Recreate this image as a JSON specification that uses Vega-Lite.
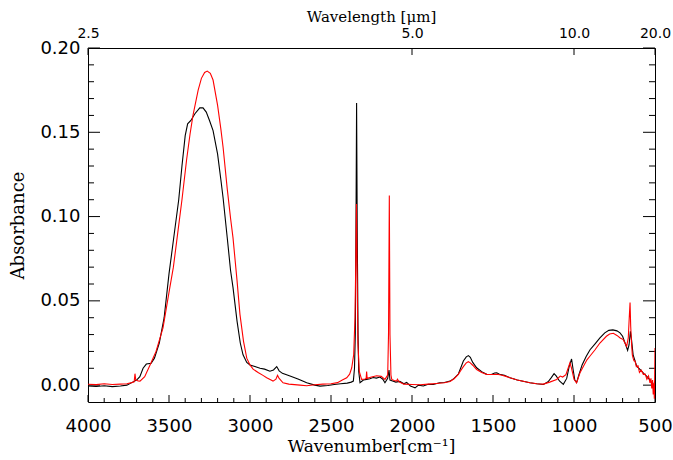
{
  "$schema": "https://vega.github.io/schema/vega-lite/v6.json",
  "width": 567,
  "height": 354,
  "autosize": "none",
  "padding": {"left": 88, "top": 48, "right": 18, "bottom": 58},
  "config": {"view": {"stroke": "#000000", "strokeWidth": 1}, "axis": {"domain": false, "ticks": false, "tickSize": 0, "grid": false, "labelColor": "#000", "titleColor": "#000"}},
  "data": {"values": [
    {"s":"b","w":4000,"a":-0.0005},{"s":"b","w":3950,"a":-0.0008},{"s":"b","w":3900,"a":-0.0004},{"s":"b","w":3850,"a":-0.0009},{"s":"b","w":3800,"a":-0.0005},{"s":"b","w":3760,"a":0.0},{"s":"b","w":3730,"a":0.0015},{"s":"b","w":3700,"a":0.003},{"s":"b","w":3680,"a":0.005},{"s":"b","w":3660,"a":0.010},{"s":"b","w":3640,"a":0.0125},{"s":"b","w":3610,"a":0.013},{"s":"b","w":3590,"a":0.016},{"s":"b","w":3560,"a":0.025},{"s":"b","w":3530,"a":0.040},{"s":"b","w":3500,"a":0.066},{"s":"b","w":3470,"a":0.088},{"s":"b","w":3440,"a":0.110},{"s":"b","w":3420,"a":0.130},{"s":"b","w":3400,"a":0.148},{"s":"b","w":3385,"a":0.155},{"s":"b","w":3365,"a":0.157},{"s":"b","w":3340,"a":0.161},{"s":"b","w":3310,"a":0.1645},{"s":"b","w":3290,"a":0.1645},{"s":"b","w":3270,"a":0.162},{"s":"b","w":3250,"a":0.157},{"s":"b","w":3228,"a":0.151},{"s":"b","w":3200,"a":0.137},{"s":"b","w":3180,"a":0.122},{"s":"b","w":3166,"a":0.111},{"s":"b","w":3140,"a":0.087},{"s":"b","w":3120,"a":0.068},{"s":"b","w":3105,"a":0.058},{"s":"b","w":3080,"a":0.038},{"s":"b","w":3060,"a":0.025},{"s":"b","w":3043,"a":0.018},{"s":"b","w":3020,"a":0.0135},{"s":"b","w":3000,"a":0.012},{"s":"b","w":2970,"a":0.011},{"s":"b","w":2938,"a":0.010},{"s":"b","w":2910,"a":0.0095},{"s":"b","w":2877,"a":0.0083},{"s":"b","w":2855,"a":0.009},{"s":"b","w":2835,"a":0.011},{"s":"b","w":2820,"a":0.0085},{"s":"b","w":2800,"a":0.007},{"s":"b","w":2753,"a":0.0054},{"s":"b","w":2700,"a":0.0035},{"s":"b","w":2650,"a":0.0014},{"s":"b","w":2600,"a":0.0},{"s":"b","w":2568,"a":-0.0006},{"s":"b","w":2520,"a":-0.0002},{"s":"b","w":2480,"a":0.0004},{"s":"b","w":2440,"a":0.0008},{"s":"b","w":2400,"a":0.0012},{"s":"b","w":2375,"a":0.0018},{"s":"b","w":2362,"a":0.0024},{"s":"b","w":2355,"a":0.010},{"s":"b","w":2350,"a":0.03},{"s":"b","w":2346,"a":0.09},{"s":"b","w":2342,"a":0.1674},{"s":"b","w":2338,"a":0.09},{"s":"b","w":2333,"a":0.03},{"s":"b","w":2329,"a":0.0083},{"s":"b","w":2321,"a":0.0014},{"s":"b","w":2300,"a":0.003},{"s":"b","w":2280,"a":0.0034},{"s":"b","w":2260,"a":0.0038},{"s":"b","w":2240,"a":0.0045},{"s":"b","w":2220,"a":0.0042},{"s":"b","w":2198,"a":0.0048},{"s":"b","w":2180,"a":0.0035},{"s":"b","w":2167,"a":0.0014},{"s":"b","w":2150,"a":0.004},{"s":"b","w":2142,"a":0.009},{"s":"b","w":2136,"a":0.003},{"s":"b","w":2120,"a":0.0025},{"s":"b","w":2100,"a":0.0018},{"s":"b","w":2075,"a":0.0022},{"s":"b","w":2050,"a":0.0008},{"s":"b","w":2033,"a":0.0016},{"s":"b","w":2010,"a":-0.0005},{"s":"b","w":1990,"a":-0.0012},{"s":"b","w":1981,"a":-0.0016},{"s":"b","w":1960,"a":0.0},{"s":"b","w":1930,"a":-0.0005},{"s":"b","w":1900,"a":0.0005},{"s":"b","w":1869,"a":0.0004},{"s":"b","w":1830,"a":0.0014},{"s":"b","w":1800,"a":0.0016},{"s":"b","w":1765,"a":0.0024},{"s":"b","w":1740,"a":0.004},{"s":"b","w":1714,"a":0.0066},{"s":"b","w":1700,"a":0.010},{"s":"b","w":1683,"a":0.0143},{"s":"b","w":1665,"a":0.0168},{"s":"b","w":1652,"a":0.0175},{"s":"b","w":1640,"a":0.0165},{"s":"b","w":1625,"a":0.0135},{"s":"b","w":1601,"a":0.0103},{"s":"b","w":1570,"a":0.008},{"s":"b","w":1539,"a":0.0064},{"s":"b","w":1510,"a":0.0063},{"s":"b","w":1490,"a":0.0072},{"s":"b","w":1477,"a":0.0073},{"s":"b","w":1460,"a":0.0065},{"s":"b","w":1430,"a":0.0058},{"s":"b","w":1395,"a":0.0044},{"s":"b","w":1350,"a":0.0030},{"s":"b","w":1300,"a":0.0020},{"s":"b","w":1272,"a":0.0014},{"s":"b","w":1230,"a":0.0008},{"s":"b","w":1189,"a":0.0004},{"s":"b","w":1160,"a":0.002},{"s":"b","w":1140,"a":0.0045},{"s":"b","w":1123,"a":0.0068},{"s":"b","w":1110,"a":0.0055},{"s":"b","w":1090,"a":0.0025},{"s":"b","w":1066,"a":0.0005},{"s":"b","w":1045,"a":0.004},{"s":"b","w":1030,"a":0.011},{"s":"b","w":1015,"a":0.0155},{"s":"b","w":1005,"a":0.009},{"s":"b","w":995,"a":0.003},{"s":"b","w":984,"a":0.0015},{"s":"b","w":970,"a":0.006},{"s":"b","w":950,"a":0.012},{"s":"b","w":925,"a":0.017},{"s":"b","w":901,"a":0.021},{"s":"b","w":870,"a":0.0245},{"s":"b","w":840,"a":0.028},{"s":"b","w":810,"a":0.031},{"s":"b","w":785,"a":0.0325},{"s":"b","w":760,"a":0.0328},{"s":"b","w":735,"a":0.0322},{"s":"b","w":716,"a":0.031},{"s":"b","w":700,"a":0.029},{"s":"b","w":685,"a":0.025},{"s":"b","w":669,"a":0.0206},{"s":"b","w":660,"a":0.024},{"s":"b","w":652,"a":0.032},{"s":"b","w":645,"a":0.027},{"s":"b","w":635,"a":0.018},{"s":"b","w":613,"a":0.0113},{"s":"b","w":590,"a":0.009},{"s":"b","w":570,"a":0.007},{"s":"b","w":552,"a":0.0054},{"s":"b","w":530,"a":0.003},{"s":"b","w":511,"a":-0.0006},{"s":"b","w":502,"a":0.002},{"s":"b","w":500,"a":0.001},
    {"s":"r","w":4000,"a":0.0005},{"s":"r","w":3950,"a":0.0003},{"s":"r","w":3900,"a":0.0008},{"s":"r","w":3850,"a":0.0004},{"s":"r","w":3800,"a":0.0006},{"s":"r","w":3760,"a":0.0008},{"s":"r","w":3730,"a":0.0015},{"s":"r","w":3715,"a":0.002},{"s":"r","w":3710,"a":0.0068},{"s":"r","w":3705,"a":0.003},{"s":"r","w":3690,"a":0.0025},{"s":"r","w":3679,"a":0.0024},{"s":"r","w":3650,"a":0.005},{"s":"r","w":3617,"a":0.012},{"s":"r","w":3580,"a":0.020},{"s":"r","w":3537,"a":0.034},{"s":"r","w":3500,"a":0.055},{"s":"r","w":3473,"a":0.070},{"s":"r","w":3453,"a":0.085},{"s":"r","w":3420,"a":0.110},{"s":"r","w":3391,"a":0.134},{"s":"r","w":3370,"a":0.149},{"s":"r","w":3352,"a":0.160},{"s":"r","w":3320,"a":0.175},{"s":"r","w":3300,"a":0.182},{"s":"r","w":3280,"a":0.1855},{"s":"r","w":3264,"a":0.1863},{"s":"r","w":3245,"a":0.185},{"s":"r","w":3228,"a":0.181},{"s":"r","w":3200,"a":0.166},{"s":"r","w":3180,"a":0.152},{"s":"r","w":3166,"a":0.141},{"s":"r","w":3140,"a":0.116},{"s":"r","w":3120,"a":0.099},{"s":"r","w":3105,"a":0.0875},{"s":"r","w":3080,"a":0.062},{"s":"r","w":3062,"a":0.042},{"s":"r","w":3040,"a":0.026},{"s":"r","w":3020,"a":0.016},{"s":"r","w":3000,"a":0.012},{"s":"r","w":2981,"a":0.0095},{"s":"r","w":2950,"a":0.0075},{"s":"r","w":2920,"a":0.0058},{"s":"r","w":2897,"a":0.0044},{"s":"r","w":2870,"a":0.003},{"s":"r","w":2858,"a":0.0024},{"s":"r","w":2840,"a":0.0035},{"s":"r","w":2830,"a":0.0058},{"s":"r","w":2820,"a":0.004},{"s":"r","w":2796,"a":0.0014},{"s":"r","w":2760,"a":0.0006},{"s":"r","w":2691,"a":0.0},{"s":"r","w":2650,"a":-0.0004},{"s":"r","w":2600,"a":0.0002},{"s":"r","w":2550,"a":0.0006},{"s":"r","w":2500,"a":0.0008},{"s":"r","w":2460,"a":0.0015},{"s":"r","w":2430,"a":0.003},{"s":"r","w":2403,"a":0.0044},{"s":"r","w":2385,"a":0.0065},{"s":"r","w":2372,"a":0.0103},{"s":"r","w":2360,"a":0.018},{"s":"r","w":2352,"a":0.04},{"s":"r","w":2346,"a":0.08},{"s":"r","w":2343,"a":0.1075},{"s":"r","w":2339,"a":0.07},{"s":"r","w":2334,"a":0.025},{"s":"r","w":2325,"a":0.008},{"s":"r","w":2311,"a":0.0034},{"s":"r","w":2290,"a":0.0036},{"s":"r","w":2283,"a":0.004},{"s":"r","w":2280,"a":0.008},{"s":"r","w":2277,"a":0.004},{"s":"r","w":2250,"a":0.0048},{"s":"r","w":2218,"a":0.0056},{"s":"r","w":2190,"a":0.0052},{"s":"r","w":2167,"a":0.0034},{"s":"r","w":2150,"a":0.006},{"s":"r","w":2145,"a":0.03},{"s":"r","w":2140,"a":0.1125},{"s":"r","w":2136,"a":0.03},{"s":"r","w":2130,"a":0.006},{"s":"r","w":2125,"a":0.0034},{"s":"r","w":2110,"a":0.0028},{"s":"r","w":2095,"a":0.0024},{"s":"r","w":2090,"a":0.0035},{"s":"r","w":2080,"a":0.002},{"s":"r","w":2050,"a":0.0006},{"s":"r","w":2000,"a":0.0004},{"s":"r","w":1950,"a":0.0002},{"s":"r","w":1900,"a":0.0006},{"s":"r","w":1850,"a":0.0010},{"s":"r","w":1800,"a":0.0014},{"s":"r","w":1765,"a":0.0022},{"s":"r","w":1740,"a":0.0038},{"s":"r","w":1714,"a":0.0064},{"s":"r","w":1700,"a":0.0085},{"s":"r","w":1683,"a":0.011},{"s":"r","w":1665,"a":0.0132},{"s":"r","w":1652,"a":0.0139},{"s":"r","w":1640,"a":0.0132},{"s":"r","w":1625,"a":0.0118},{"s":"r","w":1601,"a":0.0093},{"s":"r","w":1570,"a":0.0075},{"s":"r","w":1539,"a":0.0064},{"s":"r","w":1500,"a":0.0063},{"s":"r","w":1477,"a":0.0065},{"s":"r","w":1450,"a":0.006},{"s":"r","w":1420,"a":0.0052},{"s":"r","w":1395,"a":0.0044},{"s":"r","w":1350,"a":0.003},{"s":"r","w":1300,"a":0.002},{"s":"r","w":1272,"a":0.0014},{"s":"r","w":1230,"a":0.0008},{"s":"r","w":1189,"a":0.0006},{"s":"r","w":1150,"a":0.0018},{"s":"r","w":1107,"a":0.0034},{"s":"r","w":1085,"a":0.0054},{"s":"r","w":1070,"a":0.0048},{"s":"r","w":1050,"a":0.0062},{"s":"r","w":1040,"a":0.009},{"s":"r","w":1025,"a":0.0133},{"s":"r","w":1015,"a":0.010},{"s":"r","w":1000,"a":0.0035},{"s":"r","w":984,"a":0.0014},{"s":"r","w":963,"a":0.0073},{"s":"r","w":940,"a":0.0115},{"s":"r","w":920,"a":0.015},{"s":"r","w":901,"a":0.0173},{"s":"r","w":870,"a":0.021},{"s":"r","w":840,"a":0.025},{"s":"r","w":800,"a":0.029},{"s":"r","w":780,"a":0.0303},{"s":"r","w":757,"a":0.0308},{"s":"r","w":735,"a":0.0295},{"s":"r","w":715,"a":0.028},{"s":"r","w":696,"a":0.027},{"s":"r","w":675,"a":0.023},{"s":"r","w":665,"a":0.028},{"s":"r","w":659,"a":0.040},{"s":"r","w":654,"a":0.049},{"s":"r","w":650,"a":0.035},{"s":"r","w":645,"a":0.025},{"s":"r","w":640,"a":0.018},{"s":"r","w":635,"a":0.016},{"s":"r","w":630,"a":0.0145},{"s":"r","w":623,"a":0.0143},{"s":"r","w":615,"a":0.011},{"s":"r","w":605,"a":0.0115},{"s":"r","w":596,"a":0.0075},{"s":"r","w":585,"a":0.009},{"s":"r","w":572,"a":0.0064},{"s":"r","w":560,"a":0.0065},{"s":"r","w":550,"a":0.0035},{"s":"r","w":540,"a":0.0055},{"s":"r","w":531,"a":0.0014},{"s":"r","w":525,"a":0.004},{"s":"r","w":520,"a":-0.002},{"s":"r","w":515,"a":0.003},{"s":"r","w":511,"a":-0.0055},{"s":"r","w":507,"a":0.001},{"s":"r","w":504,"a":-0.008},{"s":"r","w":502,"a":0.005},{"s":"r","w":500,"a":0.022}
  ]},
  "layer": [
    {
      "data": {"values": [{"v":500},{"v":1000},{"v":1500},{"v":2000},{"v":2500},{"v":3000},{"v":3500},{"v":4000}]},
      "mark": {"type": "point", "shape": "M0,0L0,-2", "size": 49, "filled": false, "stroke": "#000000", "strokeWidth": 1, "opacity": 1, "strokeOpacity": 1},
      "encoding": {
        "x": {"field": "v", "type": "quantitative", "scale": {"domain": [500, 4000], "reverse": true, "nice": false, "zero": false}, "axis": null},
        "y": {"datum": -0.01, "type": "quantitative", "scale": {"domain": [-0.01, 0.2], "nice": false, "zero": false}, "axis": null}
      }
    },
    {
      "data": {"values": [{"v":600},{"v":700},{"v":800},{"v":900},{"v":1100},{"v":1200},{"v":1300},{"v":1400},{"v":1600},{"v":1700},{"v":1800},{"v":1900},{"v":2100},{"v":2200},{"v":2300},{"v":2400},{"v":2600},{"v":2700},{"v":2800},{"v":2900},{"v":3100},{"v":3200},{"v":3300},{"v":3400},{"v":3600},{"v":3700},{"v":3800},{"v":3900}]},
      "mark": {"type": "point", "shape": "M0,0L0,-2", "size": 16, "filled": false, "stroke": "#000000", "strokeWidth": 1, "opacity": 1, "strokeOpacity": 1},
      "encoding": {
        "x": {"field": "v", "type": "quantitative", "scale": {"domain": [500, 4000], "reverse": true, "nice": false, "zero": false}, "axis": null},
        "y": {"datum": -0.01, "type": "quantitative", "scale": {"domain": [-0.01, 0.2], "nice": false, "zero": false}, "axis": null}
      }
    },
    {
      "data": {"values": [{"v":500},{"v":1000},{"v":2000},{"v":4000}]},
      "mark": {"type": "point", "shape": "M0,0L0,2", "size": 49, "filled": false, "stroke": "#000000", "strokeWidth": 1, "opacity": 1, "strokeOpacity": 1},
      "encoding": {
        "x": {"field": "v", "type": "quantitative", "scale": {"domain": [500, 4000], "reverse": true, "nice": false, "zero": false}, "axis": null},
        "y": {"datum": 0.2, "type": "quantitative", "scale": {"domain": [-0.01, 0.2], "nice": false, "zero": false}, "axis": null}
      }
    },
    {
      "data": {"values": [{"v":0},{"v":0.05},{"v":0.1},{"v":0.15},{"v":0.2}]},
      "mark": {"type": "point", "shape": "M0,0L2,0", "size": 144, "filled": false, "stroke": "#000000", "strokeWidth": 1, "opacity": 1, "strokeOpacity": 1},
      "encoding": {
        "y": {"field": "v", "type": "quantitative", "scale": {"domain": [-0.01, 0.2], "nice": false, "zero": false}, "axis": null},
        "x": {"datum": 4000, "type": "quantitative", "scale": {"domain": [500, 4000], "reverse": true, "nice": false, "zero": false}, "axis": null}
      }
    },
    {
      "data": {"values": [{"v":0},{"v":0.05},{"v":0.1},{"v":0.15},{"v":0.2}]},
      "mark": {"type": "point", "shape": "M0,0L-2,0", "size": 144, "filled": false, "stroke": "#000000", "strokeWidth": 1, "opacity": 1, "strokeOpacity": 1},
      "encoding": {
        "y": {"field": "v", "type": "quantitative", "scale": {"domain": [-0.01, 0.2], "nice": false, "zero": false}, "axis": null},
        "x": {"datum": 500, "type": "quantitative", "scale": {"domain": [500, 4000], "reverse": true, "nice": false, "zero": false}, "axis": null}
      }
    },
    {
      "data": {"values": [{"v":0.01},{"v":0.02},{"v":0.03},{"v":0.04},{"v":0.06},{"v":0.07},{"v":0.08},{"v":0.09},{"v":0.11},{"v":0.12},{"v":0.13},{"v":0.14},{"v":0.16},{"v":0.17},{"v":0.18},{"v":0.19}]},
      "mark": {"type": "point", "shape": "M0,0L2,0", "size": 36, "filled": false, "stroke": "#000000", "strokeWidth": 1, "opacity": 1, "strokeOpacity": 1},
      "encoding": {
        "y": {"field": "v", "type": "quantitative", "scale": {"domain": [-0.01, 0.2], "nice": false, "zero": false}, "axis": null},
        "x": {"datum": 4000, "type": "quantitative", "scale": {"domain": [500, 4000], "reverse": true, "nice": false, "zero": false}, "axis": null}
      }
    },
    {
      "data": {"values": [{"v":0.01},{"v":0.02},{"v":0.03},{"v":0.04},{"v":0.06},{"v":0.07},{"v":0.08},{"v":0.09},{"v":0.11},{"v":0.12},{"v":0.13},{"v":0.14},{"v":0.16},{"v":0.17},{"v":0.18},{"v":0.19}]},
      "mark": {"type": "point", "shape": "M0,0L-2,0", "size": 36, "filled": false, "stroke": "#000000", "strokeWidth": 1, "opacity": 1, "strokeOpacity": 1},
      "encoding": {
        "y": {"field": "v", "type": "quantitative", "scale": {"domain": [-0.01, 0.2], "nice": false, "zero": false}, "axis": null},
        "x": {"datum": 500, "type": "quantitative", "scale": {"domain": [500, 4000], "reverse": true, "nice": false, "zero": false}, "axis": null}
      }
    },
    {
      "transform": [{"filter": "datum.s === 'b'"}],
      "mark": {"type": "line", "color": "#000000", "strokeWidth": 1.1, "clip": true},
      "encoding": {
        "x": {"field": "w", "type": "quantitative",
          "scale": {"domain": [500, 4000], "reverse": true, "nice": false, "zero": false},
          "axis": {"orient": "bottom", "values": [500,1000,1500,2000,2500,3000,3500,4000],
            "format": "d", "labelPadding": 15, "labelFlush": false, "labelOverlap": false, "labelBound": false,
            "labelFont": "DejaVu Sans", "labelFontSize": 18,
            "title": "Wavenumber[cm⁻¹]", "titleFont": "DejaVu Serif", "titleFontSize": 17, "titleFontWeight": "normal",
            "titleX": 283, "titleY": 44, "titleBaseline": "middle", "titleAlign": "center"}},
        "y": {"field": "a", "type": "quantitative",
          "scale": {"domain": [-0.01, 0.2], "nice": false, "zero": false},
          "axis": {"orient": "left", "values": [0,0.05,0.1,0.15,0.2],
            "format": ".2f", "labelPadding": 8, "labelFlush": false, "labelOverlap": false, "labelBound": false,
            "labelFont": "DejaVu Sans", "labelFontSize": 18,
            "title": "Absorbance", "titleFont": "DejaVu Serif", "titleFontSize": 18, "titleFontWeight": "normal",
            "titleAngle": -90, "titleX": -70, "titleY": 177, "titleBaseline": "middle", "titleAlign": "center"}}
      }
    },
    {
      "transform": [{"filter": "datum.s === 'r'"}],
      "mark": {"type": "line", "color": "#ff0000", "strokeWidth": 1.1, "clip": true},
      "encoding": {
        "x": {"field": "w", "type": "quantitative",
          "scale": {"domain": [500, 4000], "reverse": true, "nice": false, "zero": false},
          "axis": {"orient": "top", "values": [4000, 2000, 1000, 500],
            "labelExpr": "format(10000/datum.value, '.1f')",
            "labelPadding": 8, "labelFlush": false, "labelOverlap": false, "labelBound": false,
            "labelFont": "DejaVu Sans", "labelFontSize": 14,
            "title": "Wavelength [μm]", "titleFont": "DejaVu Serif", "titleFontSize": 15, "titleFontWeight": "normal",
            "titleX": 283, "titleY": -32, "titleBaseline": "middle", "titleAlign": "center"}},
        "y": {"field": "a", "type": "quantitative",
          "scale": {"domain": [-0.01, 0.2], "nice": false, "zero": false},
          "axis": null}
      }
    }
  ],
  "resolve": {"scale": {"x": "independent", "y": "independent"}, "axis": {"x": "independent", "y": "independent"}}
}
